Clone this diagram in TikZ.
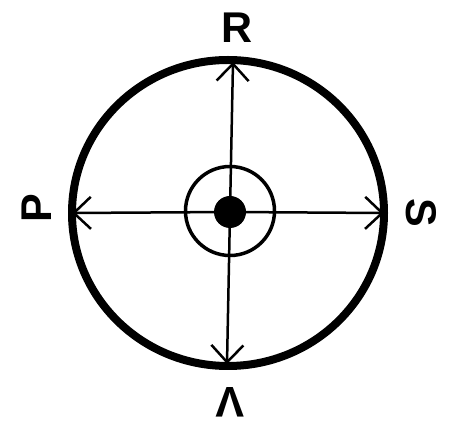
\documentclass[tikz,border=0pt]{standalone}
\usepackage{fontspec}
\setmainfont{Liberation Sans}
\usetikzlibrary{arrows.meta}

\begin{document}
\begin{tikzpicture}[x=1pt, y=-1pt, >={Straight Barb[length=17pt, width=32pt]},
    letter/.style={font=\bfseries\fontsize{43}{43}\selectfont, inner sep=0pt}]
            \useasboundingbox (0,0) rectangle (450,427);
            \draw[line width=8pt] (228,213) ellipse [x radius=156, y radius=153];

            \node[circle, draw, line width=3.5pt, minimum size=89pt, inner sep=0pt] (ring) at (230,211) {};
            \node[circle, fill, minimum size=32pt, inner sep=0pt] (hub) at (230,212) {};

            \coordinate (rEnd) at (233,62);
            \coordinate (vEnd) at (227,364);
            \coordinate (pEnd) at (72,213);
            \coordinate (sEnd) at (384,213);

            \foreach \e in {rEnd, vEnd, pEnd, sEnd} {
                \draw[->, line width=2.5pt] (hub.center) -- (\e);
            }

            \node[letter] (R) at (237,28) {R};
            \node[letter, rotate=90] (P) at (37,208) {P};
            \node[letter, rotate=-90] (S) at (421,213) {S};
            \node[letter, rotate=180] (V) at (230,402) {V};
        \end{tikzpicture}
\end{document}
